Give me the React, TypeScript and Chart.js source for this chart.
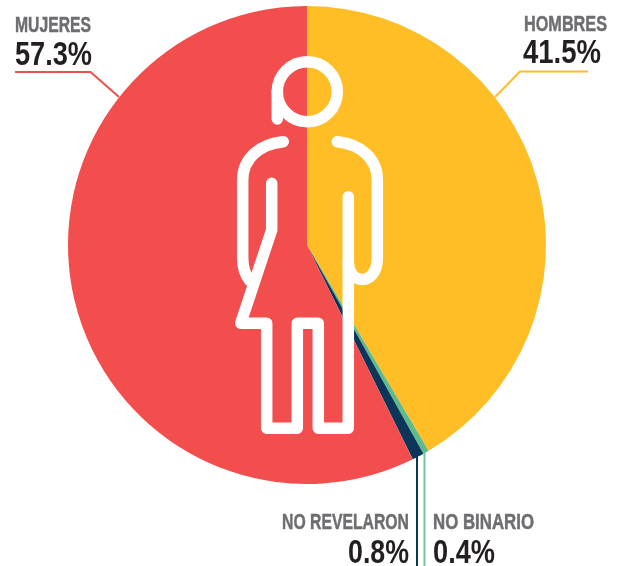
import React, { useEffect, useRef } from "react";
import { Chart, registerables } from "chart.js";

Chart.register(...registerables);

const categories = ["HOMBRES", "NO BINARIO", "NO REVELARON", "MUJERES"];
const shares = [41.5, 0.4, 0.8, 57.3];
const colors = ["#FFBE26", "#5FBB8B", "#0B3659", "#F24E4D"];
const GREY = "#6D6E71";
const INK = "#231F20";
const FONT = '"Liberation Sans Narrow", "Liberation Sans", sans-serif';

const fmt = (v: number) => `${v.toFixed(1)}%`;

const labelBoxes = [
  { i: 0, align: "left", x: 524, lw: 83, ly: 31, vx: 523, vw: 78, vy: 63 },
  { i: 1, align: "left", x: 433, lw: 101, ly: 529, vx: 433, vw: 62, vy: 563 },
  { i: 2, align: "right", x: 409, lw: 127, ly: 529, vx: 409, vw: 61, vy: 563 },
  { i: 3, align: "left", x: 15, lw: 76, ly: 32, vx: 15, vw: 77, vy: 65 },
];

const leaders: { i: number; pts: number[][]; w: number; color?: string }[] = [
  { i: 0, pts: [[588, 71.5], [520, 71.5], [495, 97]], w: 2 },
  { i: 1, pts: [[424.5, 452], [424.5, 566]], w: 2, color: "#6FC79E" },
  { i: 2, pts: [[417, 456], [417, 566]], w: 2 },
  { i: 3, pts: [[15, 72], [90.5, 72], [119, 97]], w: 2 },
];

const overlay = {
  id: "overlay",
  afterDatasetsDraw(chart: any) {
    const c = chart.ctx as CanvasRenderingContext2D;
    c.save();
    // leader lines
    leaders.forEach((l) => {
      c.beginPath();
      c.strokeStyle = l.color ?? colors[l.i];
      c.lineWidth = l.w;
      l.pts.forEach((p, k) => (k ? c.lineTo(p[0], p[1]) : c.moveTo(p[0], p[1])));
      c.stroke();
    });
    // labels
    c.textBaseline = "alphabetic";
    labelBoxes.forEach((b) => {
      c.textAlign = b.align as CanvasTextAlign;
      c.fillStyle = GREY;
      c.strokeStyle = GREY;
      c.lineWidth = 0.5;
      c.font = `bold 22px ${FONT}`;
      c.fillText(categories[b.i], b.x, b.ly, b.lw);
      c.strokeText(categories[b.i], b.x, b.ly, b.lw);
      c.fillStyle = INK;
      c.font = `bold 33px ${FONT}`;
      c.fillText(fmt(shares[b.i]), b.vx, b.vy, b.vw);
    });
    // person icon
    c.strokeStyle = "#FFFFFF";
    c.lineWidth = 11.5;
    c.lineCap = "round";
    c.lineJoin = "round";
    c.beginPath();
    c.arc(307.3, 91.7, 30, 0, Math.PI * 2);
    c.stroke();
    c.beginPath();
    c.moveTo(277.3, 91);
    c.lineTo(277.3, 119);
    c.stroke();
    // left arm
    c.beginPath();
    c.moveTo(283.3, 141.7);
    c.bezierCurveTo(260, 144, 242.7, 158, 242.7, 180);
    c.lineTo(242.7, 258);
    c.quadraticCurveTo(242.7, 272, 250, 281);
    c.stroke();
    // right arm
    c.beginPath();
    c.moveTo(337.3, 141.7);
    c.bezierCurveTo(360, 144, 377.3, 158, 377.3, 180);
    c.lineTo(377.3, 258);
    c.bezierCurveTo(377.3, 272, 370, 279.5, 362, 279.5);
    c.bezierCurveTo(354, 279.5, 348.3, 272, 348.3, 262);
    c.lineTo(348.3, 196.7);
    c.stroke();
    // body outline
    c.beginPath();
    c.moveTo(348.3, 262);
    c.lineTo(348.3, 428.3);
    c.lineTo(318.3, 428.3);
    c.lineTo(318.3, 323.3);
    c.lineTo(297.3, 323.3);
    c.lineTo(297.3, 428.3);
    c.lineTo(266.7, 428.3);
    c.lineTo(266.7, 323.3);
    c.lineTo(240.7, 323.3);
    c.lineTo(271.7, 230);
    c.lineTo(271.7, 183.3);
    c.stroke();
    c.restore();
  },
};

export default function App() {
  const ref = useRef<HTMLCanvasElement>(null);
  useEffect(() => {
    document.body.style.margin = "0";
    const chart = new Chart(ref.current!, {
      type: "pie",
      data: {
        labels: categories,
        datasets: [{ data: shares, backgroundColor: colors, borderWidth: 0 }],
      },
      options: {
        animation: false,
        responsive: false,
        layout: { padding: { left: 68, top: 6, right: 77, bottom: 82 } },
        plugins: { legend: { display: false }, tooltip: { enabled: false } },
      },
      plugins: [overlay],
    });
    return () => chart.destroy();
  }, []);
  return <canvas ref={ref} width={623} height={566} style={{ display: "block" }} />;
}
